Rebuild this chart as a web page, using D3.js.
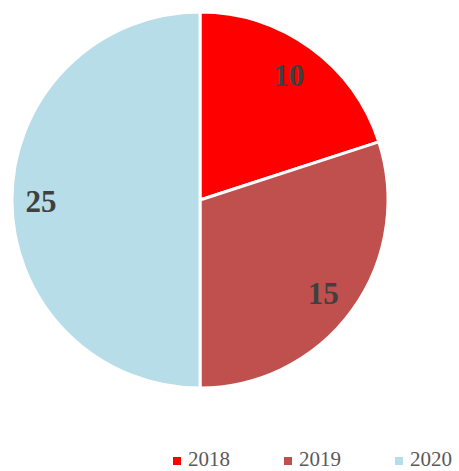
<!DOCTYPE html>
<html>
<head>
<meta charset="utf-8">
<script src="https://cdn.jsdelivr.net/npm/d3@7"></script>
<style>
  html, body { margin: 0; padding: 0; background: #fff; }
  svg { display: block; }
</style>
</head>
<body>
<div id="chart"></div>
<script>
const years = ["2018", "2019", "2020"]
const values = [10, 15, 25]
const colors = ["#FF0000", "#C0504D", "#B7DDE8"]

const width = 459
const height = 471
const cx = 200
const cy = 200
const radius = 188

const svg = d3.select("#chart")
  .append("svg")
  .attr("width", width)
  .attr("height", height)

const color = d3.scaleOrdinal(years, colors)

const pie = d3.pie().sort(null).value(d => d.value)
const arcs = pie(years.map((y, i) => ({ year: y, value: values[i] })))

const arc = d3.arc().innerRadius(0).outerRadius(radius)
const labelArc = d3.arc().innerRadius(156).outerRadius(156)

const g = svg.append("g").attr("transform", `translate(${cx},${cy})`)

g.selectAll("path")
  .data(arcs)
  .join("path")
  .attr("d", arc)
  .attr("fill", d => color(d.data.year))
  .attr("stroke", "#fff")
  .attr("stroke-width", 3)
  .attr("stroke-linejoin", "round")

// value labels
g.selectAll("text.lbl")
  .data(arcs)
  .join("text")
  .attr("class", "lbl")
  .attr("x", d => labelArc.centroid(d)[0] - 3)
  .attr("y", d => labelArc.centroid(d)[1] + 1)
  .attr("dy", "0.35em")
  .attr("text-anchor", "middle")
  .attr("font-family", "'Times New Roman', 'Liberation Serif', serif")
  .attr("font-weight", 700)
  .attr("font-size", 31)
  .attr("fill", "#404040")
  .text(d => d.data.value)

// Legend
const legendX = d3.scalePoint().domain(years).range([173, 395])
const legend = svg.append("g")
  .selectAll("g")
  .data(years)
  .join("g")
  .attr("transform", d => `translate(${legendX(d)},457)`)

legend.append("rect")
  .attr("width", 8)
  .attr("height", 8)
  .attr("fill", d => color(d))

legend.append("text")
  .attr("x", 15)
  .attr("y", 9)
  .attr("font-family", "'Times New Roman', 'Liberation Serif', serif")
  .attr("font-size", 21)
  .attr("fill", "#595959")
  .text(d => d)
</script>
</body>
</html>
